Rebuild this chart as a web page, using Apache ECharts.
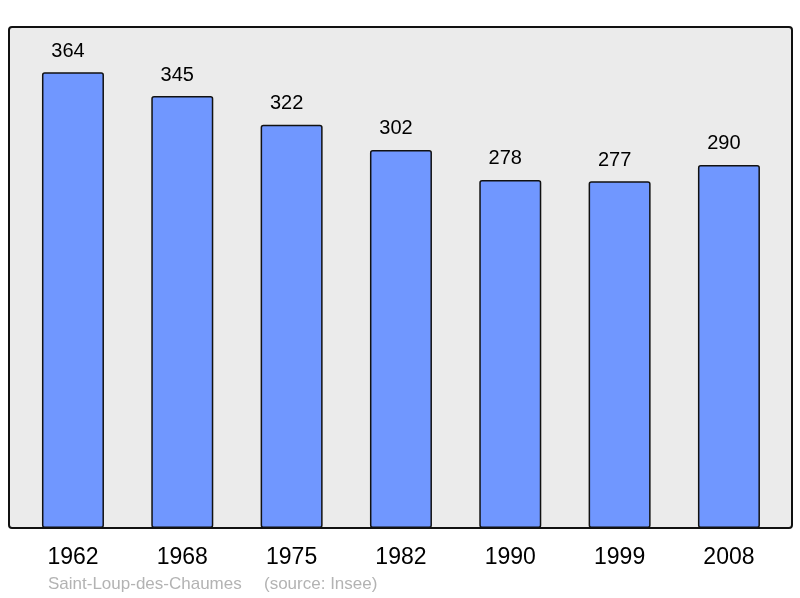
<!DOCTYPE html>
<html>
<head>
<meta charset="utf-8">
<script src="https://cdn.jsdelivr.net/npm/echarts@6/dist/echarts.min.js"></script>
<style>
  html, body { margin: 0; padding: 0; background: #fff; }
  #chart { width: 800px; height: 598px; }
</style>
</head>
<body>
<div id="chart"></div>
<script>
// population by census year
const years = ['1962', '1968', '1975', '1982', '1990', '1999', '2008'];
const population = [364, 345, 322, 302, 278, 277, 290];
const footerName = 'Saint-Loup-des-Chaumes';
const footerSource = '(source: Insee)';

const chart = echarts.init(document.getElementById('chart'));

chart.setOption({
    animation: false,
    graphic: [
        {
            type: 'rect',
            z: -10,
            shape: { x: 9, y: 27, width: 783, height: 501, r: 3 },
            style: { fill: '#ebebeb', stroke: '#111', lineWidth: 2 }
        },
        {
            type: 'text',
            left: 48, top: 576,
            style: { text: footerName, fill: '#b3b3b3', font: '17px "Liberation Sans", Arial, sans-serif' }
        },
        {
            type: 'text',
            left: 264, top: 576,
            style: { text: footerSource, fill: '#b3b3b3', font: '17px "Liberation Sans", Arial, sans-serif' }
        }
    ],
    grid: { left: 18.3, right: 16.4, top: 27.2, bottom: 70 },
    xAxis: {
        type: 'category',
        data: years,
        axisLine: { show: false },
        axisTick: { show: false },
        axisLabel: {
            margin: 18,
            fontSize: 23,
            color: '#000',
            fontFamily: '"Liberation Sans", Arial, sans-serif'
        }
    },
    yAxis: {
        type: 'value',
        min: 0,
        max: 400,
        show: false
    },
    series: [{
        type: 'bar',
        data: population,
        barWidth: 62,
        itemStyle: {
            color: '#7097ff',
            borderColor: '#111',
            borderWidth: 1.5,
            borderRadius: 2
        },
        label: {
            show: true,
            position: 'top',
            distance: 11,
            offset: [-5, 0],
            fontSize: 20,
            color: '#000',
            fontFamily: '"Liberation Sans", Arial, sans-serif'
        }
    }]
});
</script>
</body>
</html>
